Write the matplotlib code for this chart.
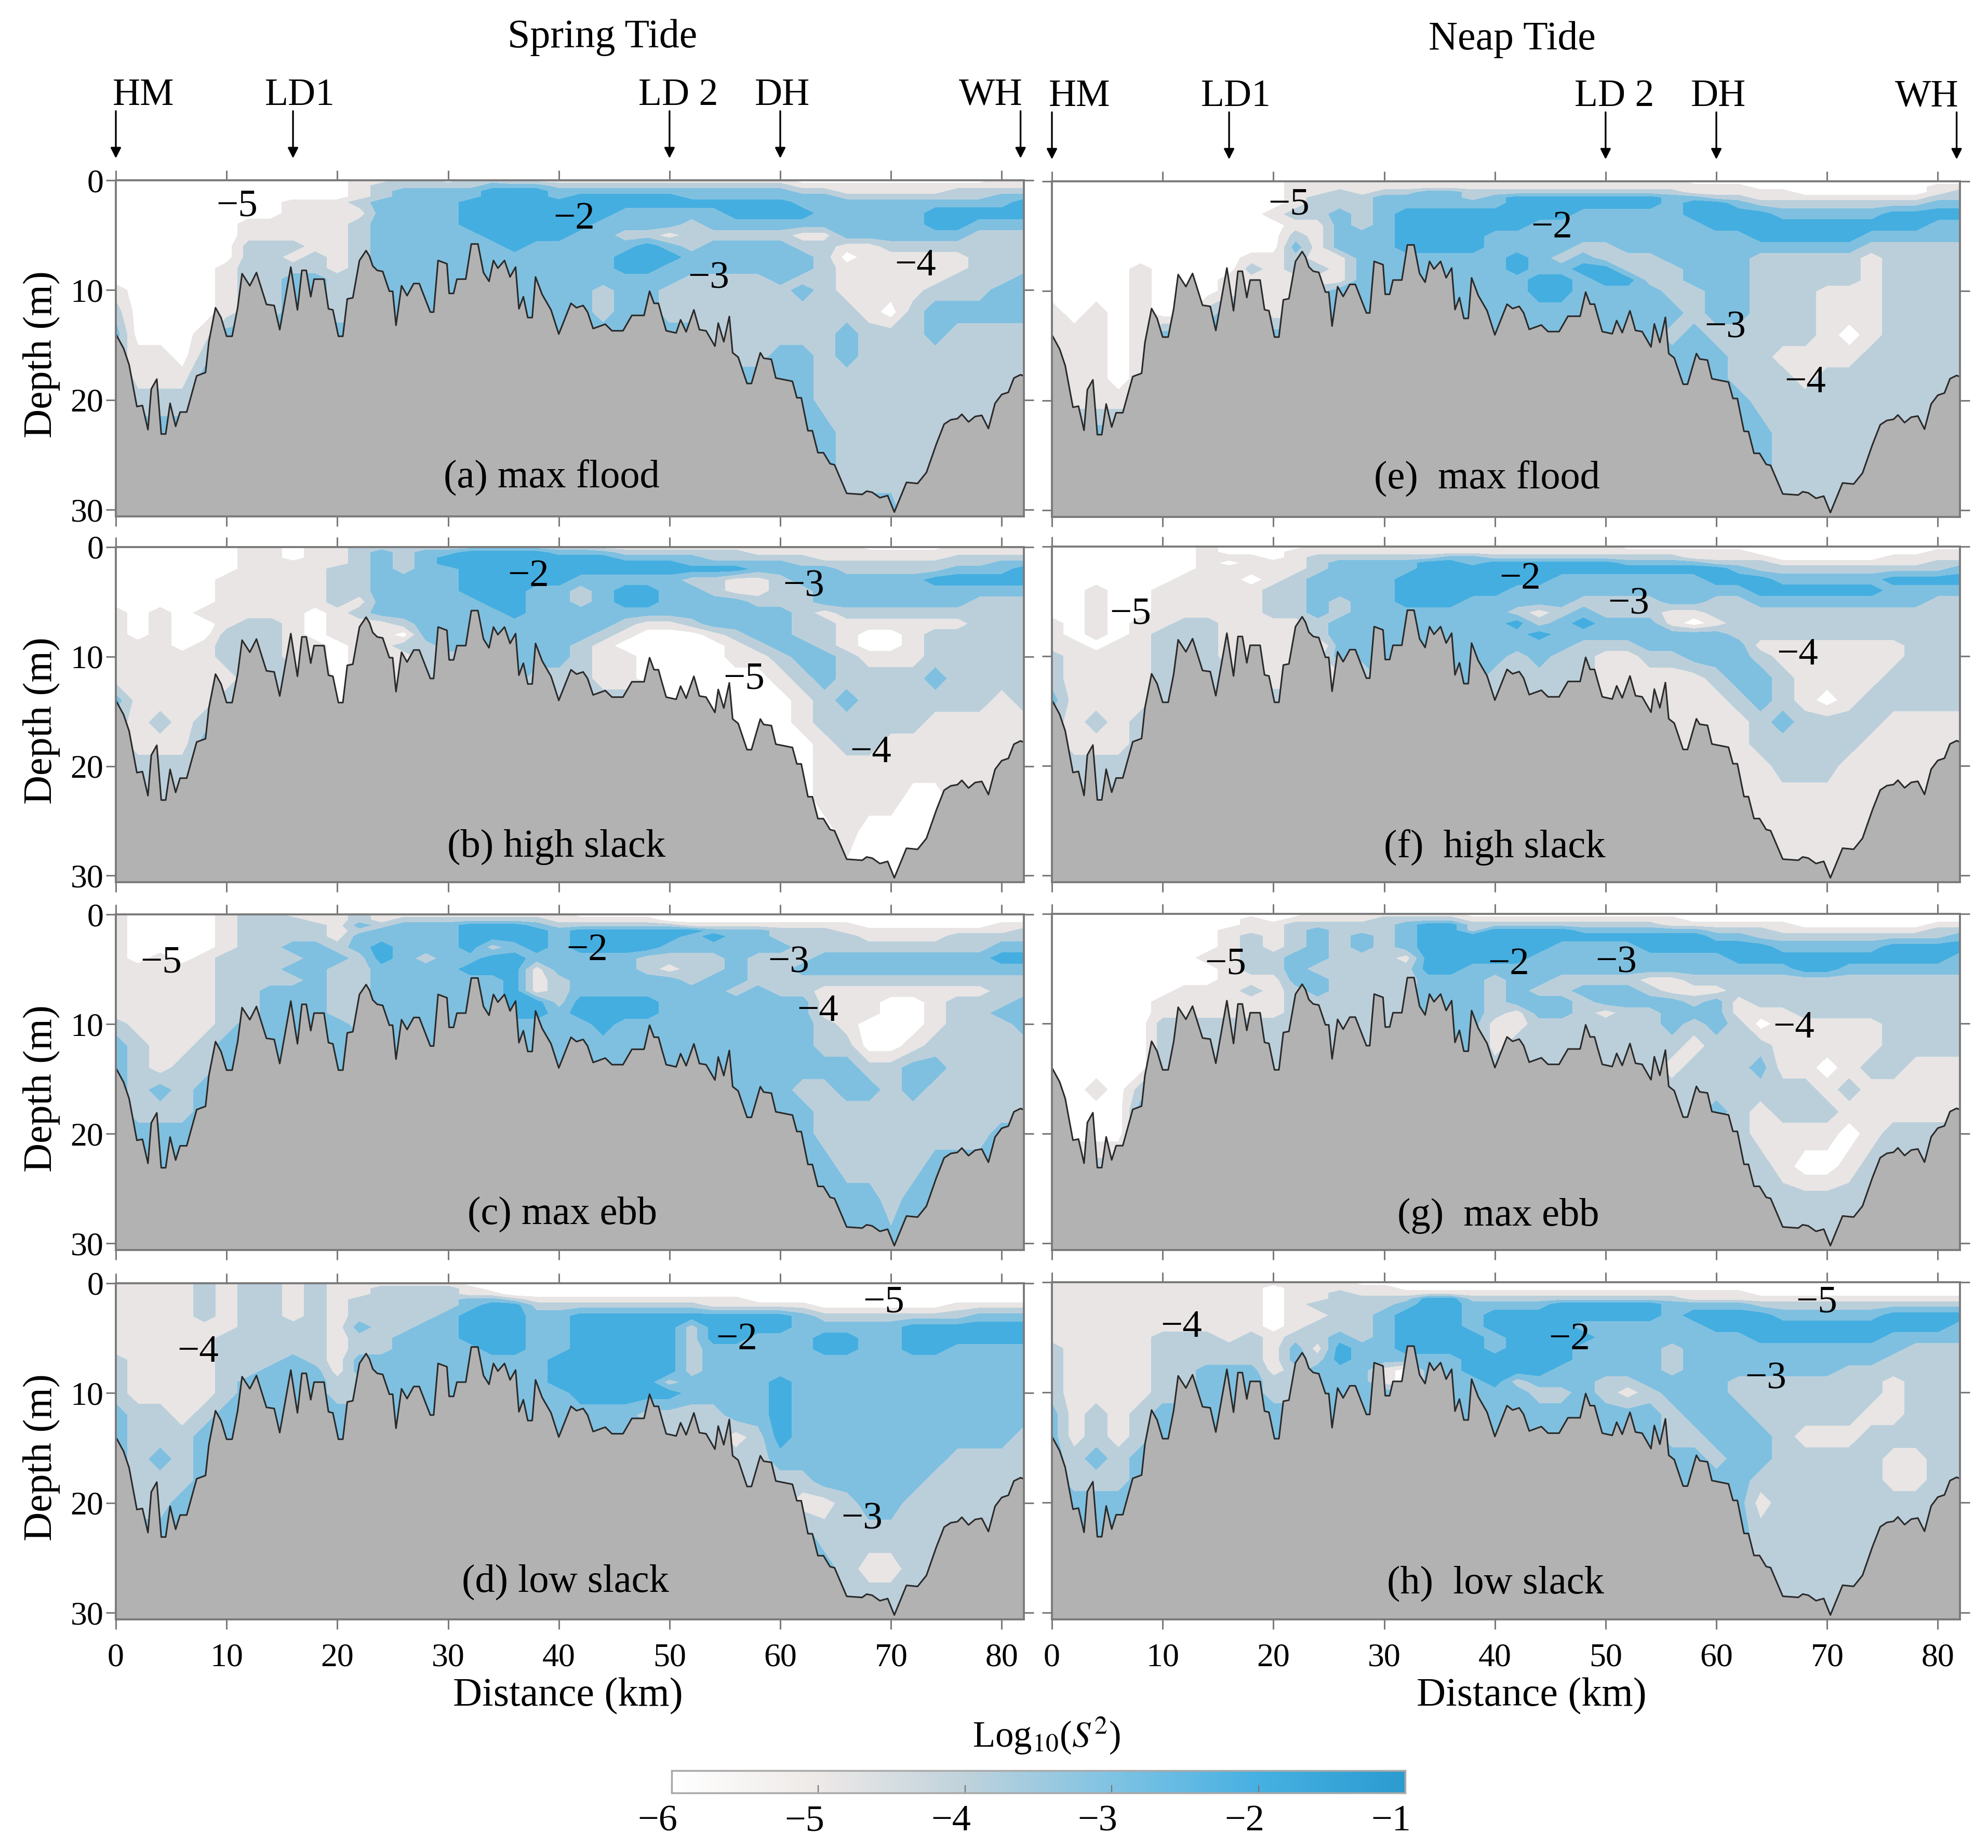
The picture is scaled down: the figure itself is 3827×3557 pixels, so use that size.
"""Along-channel sections of Log10(S^2): spring and neap tide."""
import numpy as np
import matplotlib
matplotlib.use('Agg')
import matplotlib.pyplot as plt
from matplotlib.colors import LinearSegmentedColormap, Normalize
from matplotlib.cm import ScalarMappable
from matplotlib.transforms import ScaledTranslation

plt.rcParams['font.family'] = ['Liberation Serif', 'DejaVu Serif']
plt.rcParams['mathtext.fontset'] = 'stix'

W, H = 3827, 3557

# -- bathymetry --
BED_X = [0, .7, 1.2, 1.9, 2.4, 2.9, 3.2, 3.7, 4.1, 4.5, 4.9, 5.4, 5.8, 6.4, 7.3, 8.1, 8.4, 9, 9.5, 10,
         10.5, 11, 11.4, 12.1, 12.7, 13.6, 14.3, 14.8, 15.8, 16.4, 16.8, 17.2, 17.6, 17.9, 18.8, 19.2,
         19.6, 20.1, 20.5, 20.9, 21.4, 22, 22.6, 22.9, 23.2, 23.6, 24.1, 24.7, 25, 25.3, 25.8, 26.3,
         26.9, 27.4, 28.4, 28.7, 29.1, 29.9, 30.1, 30.5, 30.8, 31.6, 32.1, 32.7, 33.2, 33.7, 34.1, 34.5,
         35.1, 35.6, 36.1, 36.4, 36.8, 37.2, 37.6, 37.9, 38.5, 39.3, 40, 41.1, 41.6, 42.2, 42.6, 43.1,
         44.2, 44.8, 45.8, 46.6, 47.7, 48.2, 48.6, 49, 49.3, 49.7, 50.6, 51, 51.5, 52.2, 52.7, 53.3,
         54.1, 54.4, 54.9, 55.4, 55.7, 56.2, 57, 57.4, 58.2, 58.5, 59.2, 59.6, 61.1, 61.5, 61.9, 62.5,
         62.9, 63.4, 63.9, 64.5, 64.9, 66, 67.4, 67.8, 68.3, 69, 69.7, 70.3, 71.4, 72.4, 73.2, 74.1,
         74.8, 75.4, 76, 76.4, 77, 77.6, 78.2, 78.8, 79.4, 80, 80.6, 81.1, 81.7, 82.2]
BED_Z = [14, 15.3, 16.8, 20.6, 20.5, 22.7, 19, 18.1, 23.1, 23.1, 20.3, 22.4, 21.1, 21.1, 17.8, 17.5, 14.7, 11.6, 12.5, 14.2,
         14.2, 11.6, 8.5, 9.6, 8.4, 11.3, 11.4, 13.6, 7.9, 11.8, 8.2, 8.2, 10.6, 9, 9, 11.7,
         11.8, 14.2, 14.2, 10.8, 10.7, 7.3, 6.4, 6.9, 7.8, 8.2, 8.3, 10.1, 10.1, 13.2, 9.6, 10.5,
         9.4, 9.4, 12, 12, 7.3, 7.6, 10.3, 10.3, 9, 9, 5.8, 5.8, 8.4, 9.2, 7.3, 8,
         7.3, 8.8, 7.9, 11.7, 10.6, 12.5, 12.5, 8.8, 10.4, 11.8, 14, 11.2, 11.6, 11.4, 12, 13.5,
         13.1, 13.7, 13.7, 12.3, 12.3, 10.1, 11.2, 11.2, 12.3, 13.7, 13.9, 12.7, 13.8, 11.8, 13.6, 13.7,
         15.1, 13, 14.7, 12.4, 15.7, 16.1, 18.5, 18.5, 15.7, 16.2, 16.3, 18, 18.3, 19.8, 19.8, 22.8,
         22.8, 24.8, 24.8, 25.8, 25.9, 28.5, 28.6, 28.3, 28.4, 28.9, 28.7, 30.2, 27.5, 27.6, 26.6, 24,
         22.2, 21.8, 21.7, 21.3, 22, 21.5, 21.4, 22.6, 20.3, 19.5, 19.3, 18, 17.7, 17.9]

# -- shear grid: one row per depth, one digit per 2 km (blocks of 10 km) --
# digit k means Log10(S^2) lies between -(k+1) and -k
GRID_X = list(range(0, 83, 2))
GRID_Z = [0, .5, 1, 1.5, 2, 3, 4, 5, 6, 7, 8, 9, 10, 12, 14, 16, 18, 20, 23, 26, 31]

BANDS_A = [
    "55555 55555 54433 43344 44444 44444 45555 55555 44",
    "55555 55555 54333 33222 33333 33333 34444 44444 44",
    "55555 55555 54322 22111 22222 22222 23344 44433 33",
    "55555 55555 54322 22111 21111 12222 22233 33333 22",
    "55555 55544 43222 21111 11111 11111 12222 22222 21",
    "55555 55544 44222 21111 11122 22211 11222 22111 11",
    "55555 54444 43222 21111 11222 23222 22222 22112 22",
    "55555 54444 43222 22111 12233 43333 34422 22223 33",
    "55555 53334 43222 22212 22221 23222 23344 33333 33",
    "55555 53343 43222 22222 22211 12222 22354 44443 33",
    "55555 43333 43222 22222 22211 22222 22344 44443 33",
    "55555 43322 33222 22222 22222 23333 23344 44433 32",
    "45555 43322 33222 22222 22322 33333 32344 44333 22",
    "35555 43322 33222 22222 22322 33333 33334 53222 22",
    "25554 22222 22222 22222 22222 22333 33323 33233 33",
    "34453 22222 22222 22222 22222 22333 22323 33333 33",
    "24442 22222 22222 22222 22222 22222 22333 33333 33",
    "23332 22222 22222 22222 22222 22222 22333 33333 33",
    "22222 22222 22222 22222 22222 22222 22233 33333 33",
    "22222 22222 22222 22222 22222 22222 22233 33333 33",
    "22222 22222 22222 22222 22222 22222 22222 23333 33",
]
BANDS_B = [
    "55555 54454 43333 33333 33444 44444 44445 55544 44",
    "55555 54454 43232 21111 22233 33334 44444 44444 44",
    "55555 54454 43232 11111 11122 22333 33444 44433 33",
    "55555 54444 43232 11111 11111 12222 23333 33333 22",
    "55555 54444 33232 21111 11111 11112 22233 33322 21",
    "55555 44444 33222 21111 12222 23344 32222 22111 11",
    "55555 44444 33222 21112 23211 22344 33222 22222 22",
    "55555 44444 34222 22112 23211 22223 33222 22223 33",
    "45454 44445 43222 22212 22222 22222 23433 33333 33",
    "45455 43345 44432 22222 22234 43222 23344 44443 33",
    "45455 33345 44452 22222 22345 55432 23345 54333 33",
    "44454 33344 54433 22222 23455 55543 22345 54333 33",
    "44444 33344 54443 33222 23445 55544 32234 44333 33",
    "44444 43333 54444 22223 33445 55555 43233 33233 33",
    "24444 33333 54444 33333 33333 55555 54323 33333 43",
    "34343 33333 33333 33333 33333 55555 54333 33444 44",
    "34442 33333 33333 33333 33333 55555 55433 44444 44",
    "33332 33333 33333 33333 33333 55555 55444 44444 43",
    "33333 33333 33333 33333 33333 55555 55444 45544 33",
    "33333 33333 33333 33333 33333 55555 55545 55555 55",
    "33333 33333 33333 33333 33333 55555 55555 55555 55",
]
BANDS_C = [
    "45555 43344 43444 44444 45555 55555 55555 55555 55",
    "45555 43334 43433 33333 44444 55555 55555 55555 55",
    "45555 43333 42322 21112 33333 34444 44445 55555 44",
    "45555 43333 43222 21111 21111 11222 33344 44444 43",
    "45555 43333 42222 21111 21111 12122 33334 44433 33",
    "45555 43322 32122 21321 21111 22222 23333 33333 22",
    "45454 33332 23123 22112 22223 33323 33222 22222 11",
    "44444 33322 33222 21114 22223 43323 32222 22222 22",
    "44444 33332 33222 22214 32222 23223 33333 33333 33",
    "44444 33222 33222 22214 32222 22232 33444 44444 33",
    "44444 33222 33222 22211 31111 22222 22444 55433 32",
    "44444 33222 33222 22211 21111 22222 22444 55433 22",
    "34444 32222 23222 22222 22122 22222 22345 55433 32",
    "23443 22222 22222 22222 22222 22222 22335 54333 33",
    "23433 22222 22222 22222 22222 22222 22223 32233 33",
    "23232 22222 22222 22222 22222 22222 23322 32333 33",
    "23332 22222 22222 22222 22222 22222 22333 33333 33",
    "22222 22222 22222 22222 22222 22222 22333 33333 22",
    "22222 22222 22222 22222 22222 22222 22233 33222 22",
    "22222 22222 22222 22222 22222 22222 22222 32222 22",
    "22222 22222 22222 22222 22222 22222 22222 22222 22",
]
BANDS_D = [
    "44443 43343 44444 45555 55555 55555 55555 55555 55",
    "44443 43343 44333 34555 55555 55555 55555 55555 55",
    "44443 43343 44333 34455 55555 55555 55555 55555 55",
    "44443 43343 43333 32234 44444 44445 55555 55555 55",
    "44443 43343 43333 32113 33333 33444 44555 55544 44",
    "44443 43343 43333 21112 21111 11111 12333 33332 22",
    "44444 43333 42332 21112 21111 13111 12222 21111 11",
    "44444 33333 43322 21112 21111 13112 22112 21111 11",
    "44444 33333 43322 22112 21111 13222 22112 21122 22",
    "34444 33323 42222 22222 11111 13222 22222 22222 22",
    "34444 33222 42222 22222 11111 13222 22222 22222 22",
    "34444 32222 33222 22222 11111 32222 12222 22222 22",
    "34444 32222 33222 22222 21111 12222 12222 22222 22",
    "23343 22222 22222 22222 22223 33322 12222 22222 22",
    "23332 22222 22222 22222 22222 33343 12222 22222 23",
    "23232 22222 22222 22222 22222 33333 22222 22233 33",
    "23332 22222 22222 22222 22222 33333 33222 22333 33",
    "23322 22222 22222 22222 22222 33333 34432 23333 33",
    "22222 22222 22222 22222 22222 33333 22333 33333 33",
    "22222 22222 22222 22222 22222 33333 22234 43333 33",
    "22222 22222 22222 22222 22222 33333 22222 23333 33",
]
BANDS_E = [
    "55555 55555 54444 44444 44444 44445 55555 55555 55",
    "55555 55555 54444 44444 44444 44444 44555 55555 44",
    "55555 55555 54434 33223 33333 33334 44445 55555 43",
    "55555 55555 54333 22223 21111 11122 33444 44444 33",
    "55555 55555 54333 22222 21111 11121 12333 33333 22",
    "55555 55555 43323 21111 11112 22221 11122 22211 11",
    "55555 55555 54423 21111 11222 22222 11111 11111 22",
    "55555 55555 53422 21111 22222 22222 22111 11222 22",
    "55555 55555 52422 21111 22223 32222 22222 22333 33",
    "55555 55554 43442 22222 21232 33322 22333 33433 33",
    "55554 55553 43342 22222 21221 13332 22333 33433 33",
    "55554 55544 44442 22222 22112 11332 22333 33433 33",
    "55554 55544 44322 22222 22112 22233 22333 44433 33",
    "45454 55322 44322 22222 22222 22223 22333 44433 33",
    "44454 22222 22222 22222 22222 22232 33333 45433 33",
    "44454 22222 22222 22222 22222 22222 23344 44333 33",
    "44454 22222 22222 22222 22222 22222 23334 33333 33",
    "44444 22222 22222 22222 22222 22222 22333 33333 33",
    "22222 22222 22222 22222 22222 22222 22233 33333 33",
    "22222 22222 22222 22222 22222 22222 22233 33333 33",
    "22222 22222 22222 22222 22222 22222 22233 33333 33",
]
BANDS_F = [
    "55555 55455 55444 44444 44444 45555 55555 55555 55",
    "55555 55455 54444 44444 44444 44444 44555 55555 44",
    "55555 55444 54333 33322 33333 33334 44455 55544 44",
    "55555 55454 44322 22112 11111 12222 33344 44444 33",
    "55555 55444 44322 22111 11111 11111 12333 33333 32",
    "55555 54445 43222 21111 11122 22222 11122 22211 11",
    "55455 44444 33222 21111 12222 22222 22111 11122 22",
    "55455 44444 33232 21112 22223 33322 33222 22222 33",
    "55455 44444 33232 22222 23432 33344 33333 33333 33",
    "45454 43344 44322 22222 21321 22245 43333 33333 33",
    "45454 33344 44322 22222 22122 22222 23333 33333 33",
    "44544 33344 44522 22222 22223 33222 22444 44443 33",
    "34444 33344 44422 22222 23233 44332 22344 44443 33",
    "34444 33333 44444 22222 33333 44444 32234 44433 33",
    "24444 33333 33333 33333 33333 44444 43234 54333 33",
    "34343 33333 33333 33333 33333 44444 44323 33344 44",
    "34443 33333 33333 33333 33333 44444 44333 33444 44",
    "33332 33333 33333 33333 33333 44444 44433 34444 44",
    "33333 33333 33333 33333 33333 44444 44444 44444 44",
    "33333 33333 33333 33333 33333 44444 44444 44444 44",
    "33333 33333 33333 33333 33333 44444 44444 44444 44",
]
BANDS_G = [
    "55555 55555 55444 44445 55555 55555 55555 55555 55",
    "55555 55554 54444 33334 44444 44445 55555 55555 55",
    "55555 55554 43333 32113 33333 33344 44445 55555 44",
    "55555 55544 43233 32113 11112 22222 33344 44444 33",
    "55555 55543 43232 32111 11111 11111 22333 33333 32",
    "55555 55543 43232 32111 11122 22111 11122 22211 11",
    "55555 55443 32233 34111 11222 22222 21111 11111 12",
    "55555 55543 32333 33112 22222 22222 22221 12222 22",
    "55555 55544 42233 33222 32233 33443 33333 33333 33",
    "55555 54443 43233 33222 32332 22344 43333 33333 33",
    "55555 44444 43333 33222 32223 22223 24333 33333 33",
    "55555 44444 43333 33222 34223 43322 24443 33333 33",
    "55555 33333 33333 33222 44333 33323 23544 44433 33",
    "55555 33333 33333 22222 43333 33334 33344 44433 33",
    "55555 33333 33333 33333 33333 33343 33244 54334 44",
    "55453 33333 33333 33333 33333 33333 33333 43444 44",
    "55552 33333 33333 33333 33333 33333 23433 34444 44",
    "55552 33333 33333 33333 33333 33333 33444 45433 33",
    "33333 33333 33333 33333 33333 33333 33345 54333 33",
    "33333 33333 33333 33333 33333 33333 33333 33333 33",
    "33333 33333 33333 33333 33333 33333 33333 33333 33",
]
BANDS_H = [
    "44444 44444 44445 55555 55555 55555 55555 55555 55",
    "44444 44444 54444 45555 55555 55555 55555 55555 55",
    "44444 44444 54434 44444 44444 44444 44555 55555 55",
    "44444 44444 54433 33113 33333 33334 44444 44444 44",
    "44444 44444 54333 32112 22211 11122 22333 33333 33",
    "44444 44444 54433 21112 11111 11121 11122 22211 11",
    "44444 44444 54333 21112 11112 22222 11111 11111 12",
    "44444 33343 43323 21111 21111 22222 22111 11122 22",
    "34444 33333 42412 21111 21112 22232 22222 22223 33",
    "34444 33333 42312 22221 11112 22232 22222 22233 33",
    "34444 33222 43222 45221 11122 22232 22222 23333 33",
    "34444 33222 33222 45222 13222 33222 23333 33343 33",
    "34444 33222 33222 22222 22332 34322 23333 33343 33",
    "24343 22222 22222 22222 22222 22232 22333 33443 33",
    "24343 22222 22222 22222 22222 22233 22234 44333 33",
    "23232 22222 22222 22222 22222 22222 32233 33344 33",
    "23332 22222 22222 22222 22222 22222 22333 33344 33",
    "22222 22222 22222 22222 22222 22222 22433 33333 33",
    "22222 22222 22222 22222 22222 22222 22333 33333 33",
    "22222 22222 22222 22222 22222 22222 22333 33333 33",
    "22222 22222 22222 22222 22222 22222 22333 33333 33",
]

LEVELS = [-6, -5, -4, -3, -2, -1]
BAND_COLORS = ['#FFFFFF', '#E8E5E4', '#BBCFDB', '#7FC0E0', '#45AEE0']
BAR_COLORS = ['#FFFFFF', '#EDE9E7', '#BFD2DC', '#7FC3E3', '#46B0E2', '#2B9BD0']
GROUND = '#B2B2B2'
SPINE = '#7A7A7A'

STATIONS = ['HM', 'LD1', 'LD 2', 'DH', 'WH']
STATION_X = [0, 16, 50, 60, 81.7]
STATION_TEXT_X = [2.5, 16.6, 50.8, 60.2, 79]

# label, left px, top px, bottom px, name centre px, contour labels (text, x px, y px)
PANELS = [
    ('(a) max flood', 223, 347, 994, (1062, 920), BANDS_A,
     [('5', 456, 398), ('2', 1105, 422), ('3', 1364, 537), ('4', 1762, 512)]),
    ('(b) high slack', 223, 1053, 1698, (1071, 1630), BANDS_B,
     [('2', 1017, 1110), ('3', 1547, 1130), ('5', 1432, 1308), ('4', 1676, 1449)]),
    ('(c) max ebb', 223, 1760, 2406, (1083, 2337), BANDS_C,
     [('5', 310, 1854), ('2', 1130, 1830), ('3', 1518, 1854), ('4', 1574, 1947)]),
    ('(d) low slack', 223, 2470, 3117, (1088, 3045), BANDS_D,
     [('4', 381, 2603), ('2', 1418, 2579), ('5', 1701, 2508), ('3', 1659, 2925)]),
    ('(e)  max flood', 2025, 349, 995, (2862, 922), BANDS_E,
     [('5', 2481, 395), ('2', 2987, 439), ('3', 3321, 632), ('4', 3475, 737)]),
    ('(f)  high slack', 2025, 1052, 1698, (2877, 1632), BANDS_F,
     [('5', 2176, 1183), ('2', 2926, 1115), ('3', 3135, 1164), ('4', 3460, 1261)]),
    ('(g)  max ebb', 2025, 1759, 2406, (2884, 2340), BANDS_G,
     [('5', 2359, 1857), ('2', 2904, 1857), ('3', 3111, 1854), ('4', 3453, 1979)]),
    ('(h)  low slack', 2025, 2468, 3117, (2879, 3048), BANDS_H,
     [('4', 2274, 2555), ('2', 3021, 2579), ('5', 3497, 2508), ('3', 3399, 2655)]),
]
AX_W = 1748


def fx(px):
    return px / W


def fy(py):
    return 1 - py / H


def read_field(rows):
    digits = [[int(c) for c in r.replace(' ', '')] for r in rows]
    return -(np.array(digits, dtype=float) + 0.5)


fig = plt.figure(figsize=(W / 100, H / 100), dpi=100, facecolor='white')

for idx, (name, left, top, bottom, centre, bands, tags) in enumerate(PANELS):
    ax = fig.add_axes([fx(left), fy(bottom), AX_W / W, (bottom - top) / H])
    ax.contourf(GRID_X, GRID_Z, read_field(bands), levels=LEVELS, colors=BAND_COLORS, zorder=1)
    ax.fill_between(BED_X, BED_Z, 32, color=GROUND, linewidth=0, zorder=2)
    ax.plot(BED_X, BED_Z, color='#2A2A2A', lw=2.2, zorder=3)
    ax.set_xlim(0, 82)
    ax.set_ylim(30.6, 0)
    ax.set_xticks(range(0, 81, 10))
    ax.set_yticks([0, 10, 20, 30])
    ax.tick_params(axis='both', which='major', direction='out', length=14, width=2.2, color=SPINE,
                   labelsize=46, top=True, right=True)
    ax.tick_params(axis='x', pad=19, labelbottom=idx in (3, 7))
    ax.tick_params(axis='y', pad=3, labelleft=idx < 4)
    for s in ax.spines.values():
        s.set_color(SPINE)
        s.set_linewidth(2.8)
        s.set_zorder(5)

    fig.text(fx(centre[0]), fy(centre[1]), name, fontsize=55, ha='center', va='center')
    for digit, px, py in tags:
        fig.text(fx(px), fy(py), '\u2212' + digit, fontsize=54, ha='center', va='center')
    if idx < 4:
        fig.text(fx(80), fy((top + bottom) / 2 + 12), 'Depth (m)', fontsize=56, rotation=90,
                 ha='center', va='center')

    # stations over the top row
    if idx in (0, 4):
        for st, sx, tx in zip(STATIONS, STATION_X, STATION_TEXT_X):
            ax.annotate('', xy=(sx, -2.0), xytext=(sx, -6.3), annotation_clip=False,
                        arrowprops=dict(arrowstyle='-|>', color='black', lw=2.4, mutation_scale=30,
                                        shrinkA=0, shrinkB=0))
            ax.text(tx, -7.7, st, fontsize=53, ha='center', va='center', clip_on=False)

fig.text(fx(1160), fy(72), 'Spring Tide', fontsize=56, ha='center', va='center')
fig.text(fx(2911), fy(76), 'Neap Tide', fontsize=56, ha='center', va='center')
fig.text(fx(1093), fy(3265), 'Distance (km)', fontsize=56, ha='center', va='center')
fig.text(fx(2948), fy(3265), 'Distance (km)', fontsize=56, ha='center', va='center')

# colour bar
cax = fig.add_axes([fx(1293), fy(3451), 1412 / W, 43 / H])
cmap = LinearSegmentedColormap.from_list('shear', BAR_COLORS, N=256)
cb = fig.colorbar(ScalarMappable(norm=Normalize(-6, -1), cmap=cmap), cax=cax, orientation='horizontal')
cb.set_ticks(LEVELS)
cb.ax.tick_params(direction='in', length=11, width=1.6, color='#777777', labelsize=52, pad=16)
shift = ScaledTranslation(-0.27, 0, fig.dpi_scale_trans)
for lab in cb.ax.get_xticklabels():
    lab.set_transform(lab.get_transform() + shift)
cb.outline.set_edgecolor('#A8A8A8')
cb.outline.set_linewidth(2.5)
fig.text(fx(2014), fy(3341), r'Log$_{10}$($S^2$)', fontsize=51, ha='center', va='center')

fig.savefig('out.png', dpi=100)
